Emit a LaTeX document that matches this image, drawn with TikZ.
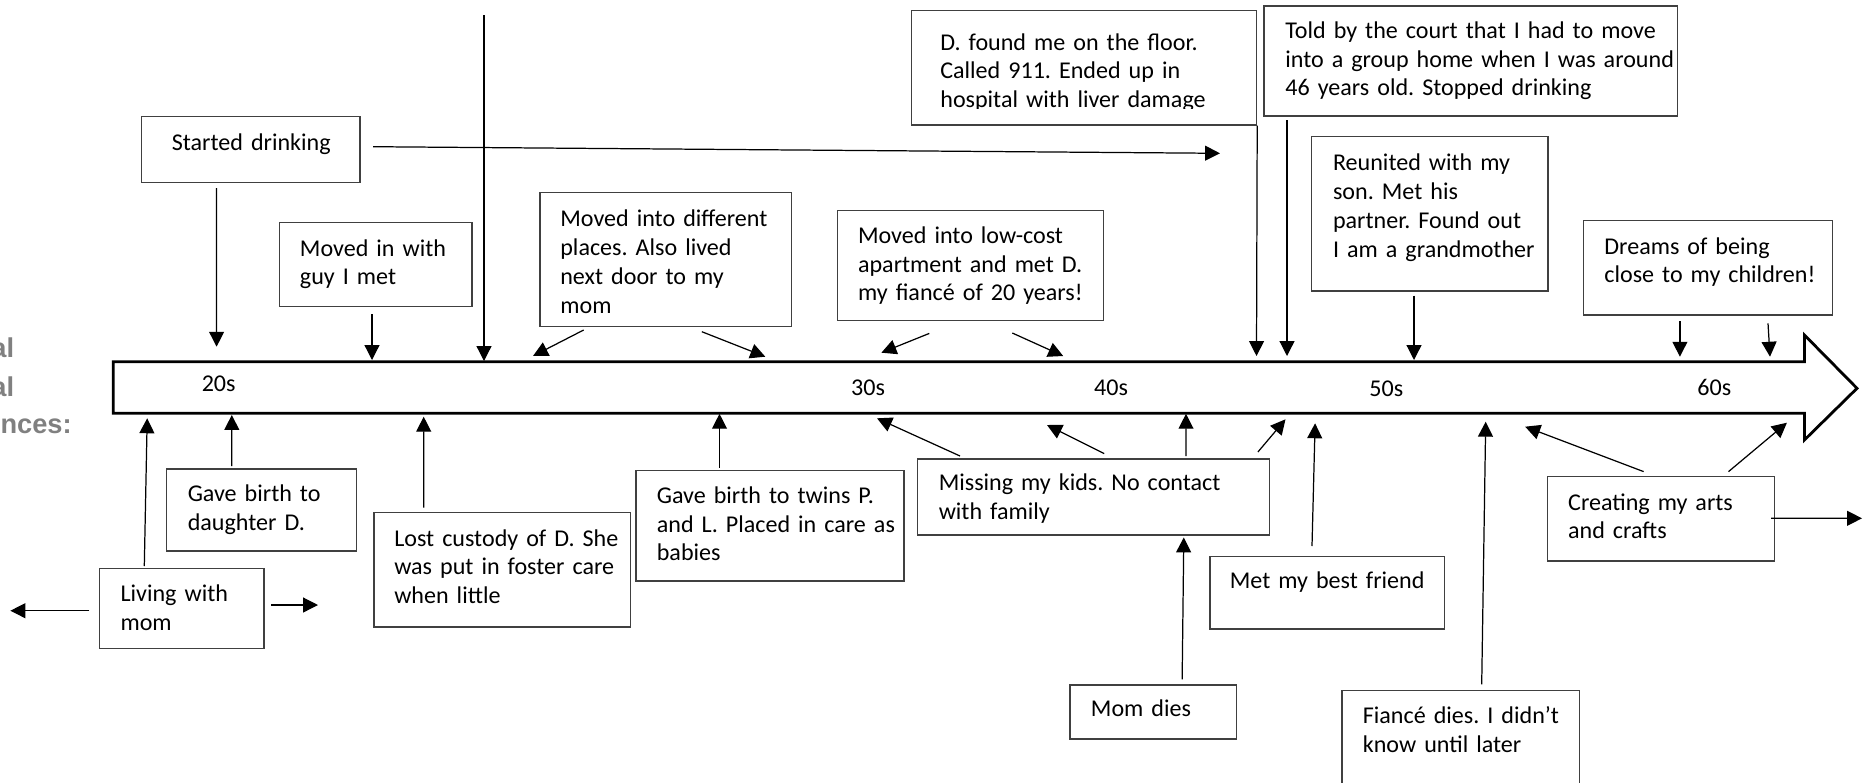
\documentclass[tikz,border=0pt]{standalone}
\usepackage{fontspec}
\setmainfont{Carlito}
\newfontfamily\gfont{Liberation Sans}
\usetikzlibrary{arrows.meta,fit,calc}
\definecolor{framec}{HTML}{404040}
\definecolor{ghostc}{HTML}{808080}
\frenchspacing
\begin{document}
\begin{tikzpicture}[x=0.02cm,y=-0.02cm,
  box/.style={draw=framec, line width=0.8pt, inner sep=0pt},
  txt/.style={inner sep=0pt, text width=9cm, align=left, anchor=base west, font=\fontsize{13.7pt}{16.4pt}\selectfont},
  arr/.style={-{Triangle[length=8.5pt,width=8.5pt]}, line width=0.7pt},
  yr/.style={inner sep=0pt, anchor=base west, font=\fontsize{13.7pt}{16.4pt}\selectfont},
  ghost/.style={inner sep=0pt, anchor=base east, text=ghostc, font=\gfont\bfseries\fontsize{15.5pt}{18pt}\selectfont}]
\useasboundingbox (0,0) rectangle (1869,782);

% partial side texts
\node[ghost] (g1) at (14.5,357.3) {al};
\node[ghost] (g2) at (14.5,396) {al};
\node[ghost] (g3) at (72,433.3) {nces:};

% timeline arrow
\coordinate (T) at (0,361.7);
\coordinate (B) at (0,413.3);
\draw[line width=1.6pt, line join=miter] (113.3,361.7) -- (1804.4,361.7) -- (1804.4,335) -- (1857,388.3) -- (1804.4,440) -- (1804.4,413.3) -- (113.3,413.3) -- cycle;
\node[yr] (y20) at (201.4,391.7) {20s};
\node[yr] (y30) at (850.8,395) {30s};
\node[yr] (y40) at (1093.8,395) {40s};
\node[yr] (y50) at (1369,396.7) {50s};
\node[yr] (y60) at (1697,395) {60s};

% boxes above
\node[box, fit={(141.6,116.7)(359.9,182.7)}] (sd) {};
\node[txt] (sd-t) at (171.5,150.7) {Started drinking};
\node[box, fit={(279.6,222.7)(472,306.7)}] (mi) {};
\node[txt] (mi-t) at (299.6,256) {Moved in with\\guy I met};
\node[box, fit={(539.8,192.7)(791.5,326.7)}] (md) {};
\node[txt] (md-t) at (560,226.7) {Moved into different\\places. Also lived\\next door to my\\mom};
\node[box, fit={(837.4,210.7)(1103.4,320.7)}] (lc) {};
\node[txt] (lc-t) at (857.7,243.3) {Moved into low-cost\\apartment and met D.\\my fiancé of 20 years!};
\node[box, fit={(911.3,10.7)(1256.5,125)}] (df) {};
\begin{scope}
\clip (911.3,10.7) rectangle (1256.5,108.3);
\node[txt] (df-t) at (940,50) {D. found me on the floor.\\Called 911. Ended up in\\hospital with liver damage};
\end{scope}
\node[box, fit={(1264,6)(1677.4,116)}] (tc) {};
\node[txt] (tc-t) at (1285,38.3) {Told by the court that I had to move\\into a group home when I was around\\46 years old. Stopped drinking};
\node[box, fit={(1311.6,136.7)(1547.8,291)}] (ru) {};
\node[txt] (ru-t) at (1332.7,170.7) {Reunited with my\\son. Met his\\partner. Found out\\I am a grandmother};
\node[box, fit={(1583.7,220.7)(1832.3,315)}] (dr) {};
\node[txt] (dr-t) at (1604,254) {Dreams of being\\close to my children!};

% boxes below
\node[box, fit={(166.3,469)(356.5,551)}] (gb) {};
\node[txt] (gb-t) at (187.4,501.7) {Gave birth to\\daughter D.};
\node[box, fit={(99.5,568.3)(264.1,648.7)}] (lm) {};
\node[txt] (lm-t) at (120.2,601.7) {Living with\\mom};
\node[box, fit={(374,512.7)(630.2,627)}] (lcu) {};
\node[txt] (lcu-t) at (393.9,546) {Lost custody of D. She\\was put in foster care\\when little};
\node[box, fit={(635.8,470.7)(904,581)}] (tw) {};
\node[txt] (tw-t) at (656.5,503.3) {Gave birth to twins P.\\and L. Placed in care as\\babies};
\node[box, fit={(917.7,459)(1269.7,535)}] (mk) {};
\node[txt] (mk-t) at (938.4,490.7) {Missing my kids. No contact\\with family};
\node[box, fit={(1069.8,685)(1236.5,739)}] (mom) {};
\node[txt] (mom-t) at (1090.6,716.7) {Mom dies};
\node[box, fit={(1210,556.7)(1444.2,629)}] (mb) {};
\node[txt] (mb-t) at (1229.5,588.3) {Met my best friend};
\node[box, fit={(1342,690.7)(1579.6,800)}] (fd) {};
\node[txt] (fd-t) at (1362.5,723.3) {Fiancé dies. I didn’t\\know until later};
\node[box, fit={(1547.3,476.7)(1774.3,561)}] (ca) {};
\node[txt] (ca-t) at (1567.8,510) {Creating my arts\\and crafts};

% free ends
\coordinate (drinkend) at (1220,153.3);
\coordinate (topstart) at (484,15);
\coordinate (lmleft) at (10.4,610.7);
\coordinate (lmright) at (318,605);
\coordinate (caright) at (1862,518.3);

% connectors above
\draw[arr] ([shift={(-34.2,4.6)}]sd.south) -- ([shift={(216.6,-15)}]T);
\draw[arr] ([shift={(12.5,-3)}]sd.east) -- (drinkend);
\draw[arr] ([shift={(-3.8,6.6)}]mi.south) -- ([shift={(372,-1.7)}]T);
\draw[arr] (topstart) -- ([shift={(484,-0.7)}]T);
\draw[arr] ([shift={(-82,2.6)}]md.south) -- ([shift={(533,-5.7)}]T);
\draw[arr] ([shift={(36.2,4.3)}]md.south) -- ([shift={(765.3,-5)}]T);
\draw[arr] ([shift={(-41.1,12)}]lc.south) -- ([shift={(881.4,-9)}]T);
\draw[arr] ([shift={(41.9,11.6)}]lc.south) -- ([shift={(1063.2,-5.7)}]T);
\draw[arr] (df.south east) -- ([shift={(1256.5,-5.7)}]T);
\draw[arr] ([shift={(-183.7,3.3)}]tc.south) -- ([shift={(1287,-5.7)}]T);
\draw[arr] ([shift={(-15.7,4)}]ru.south) -- ([shift={(1414,-1.7)}]T);
\draw[arr] ([shift={(-28.1,5.7)}]dr.south) -- ([shift={(1679.9,-5)}]T);
\draw[arr] ([shift={(60,7.7)}]dr.south) -- ([shift={(1770,-5)}]T);

% connectors below
\draw[arr] ([shift={(-37.5,-1.6)}]lm.north) -- ([shift={(147.2,5)}]B);
\draw[arr] ([shift={(-9.5,2.2)}]lm.west) -- (lmleft);
\draw[arr] ([shift={(6.2,-3.5)}]lm.east) -- (lmright);
\draw[arr] ([shift={(-29.6,-2.3)}]gb.north) -- ([shift={(231.8,1.7)}]B);
\draw[arr] ([shift={(-78.4,-4.4)}]lcu.north) -- ([shift={(423.7,3.4)}]B);
\draw[arr] ([shift={(-50.4,-2.4)}]tw.north) -- ([shift={(719.5,0.5)}]B);
\draw[arr] ([shift={(-133.7,-2.3)}]mk.north) -- ([shift={(877,5)}]B);
\draw[arr] ([shift={(10.5,-4.7)}]mk.north) -- ([shift={(1047,11.7)}]B);
\draw[arr] ([shift={(92.3,-2.3)}]mk.north) -- ([shift={(1186,0.5)}]B);
\draw[arr] ([shift={(164.2,-6.3)}]mk.north) -- ([shift={(1285.5,6)}]B);
\draw[arr] ([shift={(29,-5)}]mom.north) -- ([shift={(90.1,1.7)}]mk.south);
\draw[arr] ([shift={(-15.1,-10)}]mb.north) -- ([shift={(1315.1,10)}]B);
\draw[arr] ([shift={(20.9,-5.7)}]fd.north) -- ([shift={(1485.7,8.4)}]B);
\draw[arr] ([shift={(-17.2,-4.4)}]ca.north) -- ([shift={(1525.2,13.4)}]B);
\draw[arr] ([shift={(67.7,-4.4)}]ca.north) -- ([shift={(1786.9,9.4)}]B);
\draw[arr] ([shift={(-4,-0.5)}]ca.east) -- (caright);
\end{tikzpicture}
\end{document}
